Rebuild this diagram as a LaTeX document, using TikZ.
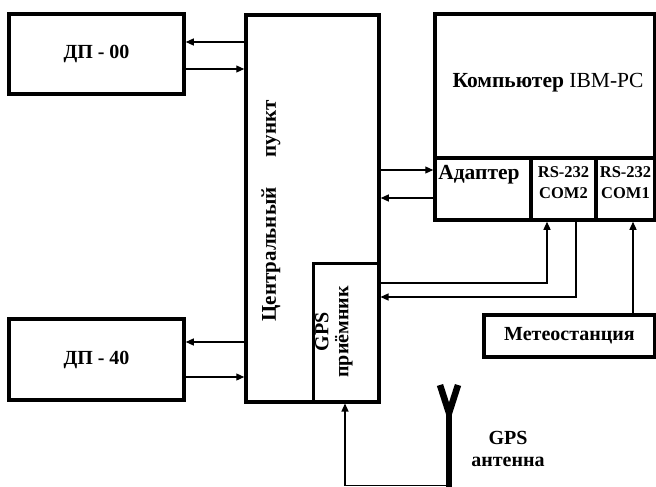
\documentclass[tikz,border=0pt]{standalone}
\usepackage{fontspec}
\setmainfont{Liberation Serif}
\usetikzlibrary{arrows.meta,positioning}

\begin{document}
\begin{tikzpicture}[
  x=1pt, y=-1pt,
  >={Triangle[length=8pt,width=7pt]},
  box/.style={draw, line width=3.5pt, inner sep=0pt, align=center,
              font=\fontsize{20}{22}\selectfont\bfseries},
  txt/.style={inner sep=0pt, align=center,
              font=\fontsize{20}{22}\selectfont\bfseries},
  arr/.style={->, line width=1.2pt},
  ant/.style={line width=6.5pt}
]
  \useasboundingbox (0,0) rectangle (656,487);

  % control points
  \node[box, minimum width=175, minimum height=80] (dp00) at (96.5,54) {ДП - 00};
  \node[box, minimum width=175, minimum height=81] (dp40) at (96.5,359.5) {ДП - 40};

  % central unit with GPS receiver
  \node[box, minimum width=133, minimum height=387] (central) at (312.5,208.5) {};
  \node[txt, rotate=90, font=\fontsize{21}{22}\selectfont\bfseries] (centraltext) at (271,211) {Центральный\hspace{30pt}пункт};
  \node[box, line width=3pt, minimum width=66, minimum height=139] (gps) at (346,332.5) {};
  \node[txt, rotate=90, font=\fontsize{20}{20}\selectfont\bfseries] (gpstext) at (334,332) {GPS\\приёмник};

  % computer
  \node[box, minimum width=220, minimum height=206] (pc) at (545,117) {};
  \node[txt, font=\fontsize{21.5}{22}\selectfont\bfseries] (pctext) at (548,83) {Компьютер {\mdseries IBM-PC}};
  \node[box, minimum width=96, minimum height=62] (adapter) at (483,189) {};
  \node[box, minimum width=65, minimum height=62] (com2) at (563.5,189) {};
  \node[box, minimum width=59, minimum height=62] (com1) at (625.5,189) {};
  \node[txt, font=\fontsize{21.5}{22}\selectfont\bfseries] (adtext) at (479,175) {Адаптер};
  \node[txt, font=\fontsize{16.5}{21}\selectfont\bfseries] (com2text) at (563.5,183) {RS-232\\COM2};
  \node[txt, font=\fontsize{16.5}{21}\selectfont\bfseries] (com1text) at (625.5,183) {RS-232\\COM1};

  \node[box, minimum width=171, minimum height=42] (meteo) at (569.5,336) {Метеостанция};

  % antenna
  \draw[ant] (440,385) -- (449,413) -- (458,385);
  \draw[ant] (449,413) -- (449,487);
  \coordinate (antfoot) at (449,485.5);
  \node[txt, font=\fontsize{20}{22}\selectfont\bfseries] (anttext) at (508,449) {GPS\\антенна};

  % links
  \draw[arr] ([yshift=12pt]dp00.east -| central.west) -- ([yshift=12pt]dp00.east);
  \draw[arr] ([yshift=-15pt]dp00.east) -- ([yshift=-15pt]dp00.east -| central.west);
  \draw[arr] ([yshift=17.5pt]dp40.east -| central.west) -- ([yshift=17.5pt]dp40.east);
  \draw[arr] ([yshift=-17.5pt]dp40.east) -- ([yshift=-17.5pt]dp40.east -| central.west);
  \draw[arr] ([yshift=19pt]adapter.west -| central.east) -- ([yshift=19pt]adapter.west);
  \draw[arr] ([yshift=-9pt]adapter.west) -- ([yshift=-9pt]adapter.west -| central.east);
  \draw[arr] ([yshift=49.5pt]gps.east) -| ([xshift=-16.5pt]com2.south);
  \draw[arr] ([xshift=12.5pt]com2.south) |- ([yshift=35.5pt]gps.east);
  \draw[arr] ([xshift=63.5pt]meteo.north) -- ([xshift=63.5pt]meteo.north |- com1.south);
  \draw[arr] (antfoot) -| ([xshift=-1pt]gps.south);
\end{tikzpicture}
\end{document}
